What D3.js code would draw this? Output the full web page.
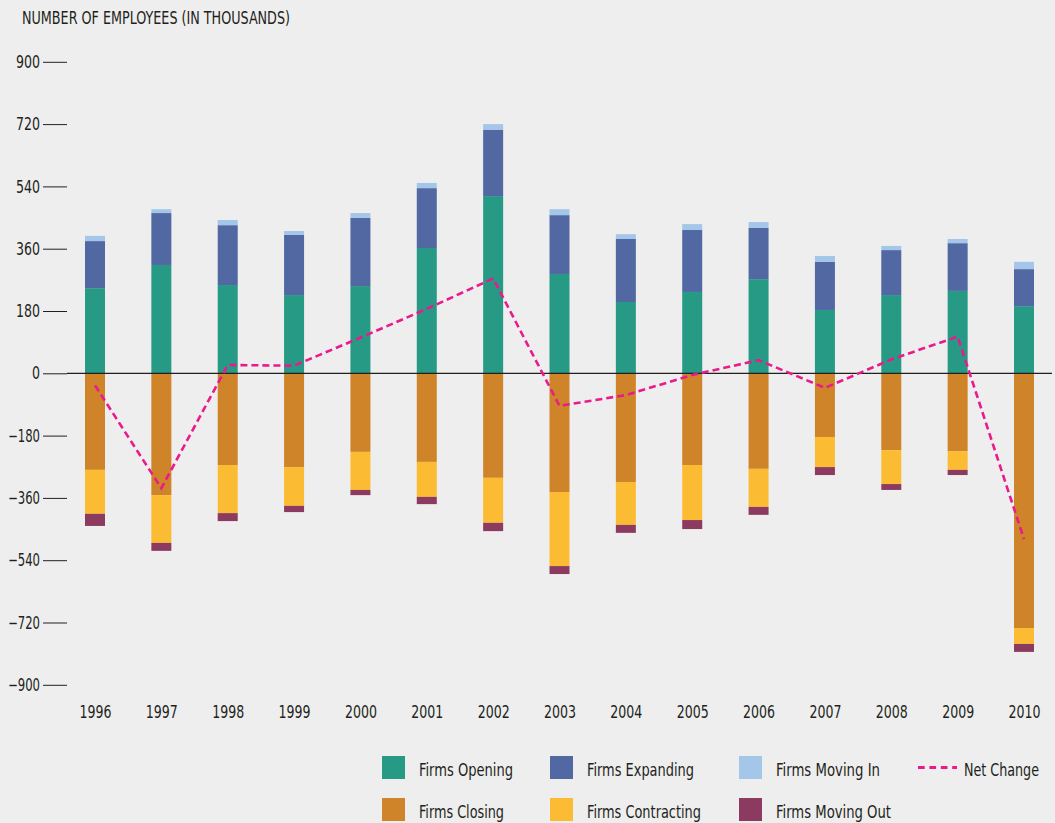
<!DOCTYPE html>
<html>
<head>
<meta charset="utf-8">
<script src="https://cdn.jsdelivr.net/npm/d3@7"></script>
<style>
  html, body { margin: 0; padding: 0; background: #eeeeee; }
  svg { display: block; }
  text { font-family: "DejaVu Sans Condensed", "Liberation Sans Narrow", sans-serif; fill: #231f20; }
</style>
</head>
<body>
<svg id="chart" width="1055" height="823"></svg>
<script>
const years = ["1996","1997","1998","1999","2000","2001","2002","2003","2004","2005","2006","2007","2008","2009","2010"];
const firmsOpening     = [246, 313, 255, 226, 252, 362, 512, 287, 206, 235, 272, 183, 226, 238, 194];
const firmsExpanding   = [136, 150, 173, 174, 197, 173, 191, 170, 182, 179, 148, 139, 130, 138, 107];
const firmsMovingIn    = [15, 11, 15, 11, 14, 15, 17, 17, 14, 17, 17, 17, 12, 12, 21];
const firmsClosing     = [-279, -352, -265, -271, -227, -256, -302, -343, -314, -265, -276, -184, -222, -225, -736];
const firmsContracting = [-127, -138, -139, -112, -110, -101, -130, -214, -124, -159, -110, -87, -98, -54, -46];
const firmsMovingOut   = [-35, -23, -23, -18, -15, -21, -24, -23, -23, -26, -23, -23, -17, -15, -23];
const netChange        = [-35, -332, 24, 22, 103, 186, 274, -94, -63, -5, 38, -42, 40, 106, -479];
const yTicks = [900, 720, 540, 360, 180, 0, -180, -360, -540, -720, -900];

const seriesKeys = ["Firms Opening","Firms Expanding","Firms Moving In","Firms Closing","Firms Contracting","Firms Moving Out"];
const seriesData = [firmsOpening, firmsExpanding, firmsMovingIn, firmsClosing, firmsContracting, firmsMovingOut];
const colors = ["#269a84", "#5268a3", "#a4c6e8", "#cf8429", "#fbbb33", "#8c3a5f"];
const netColor = "#ea1a8c";

const rows = years.map((y, i) => {
  const r = { year: y };
  seriesKeys.forEach((k, j) => r[k] = seriesData[j][i]);
  return r;
});

const svg = d3.select("#chart");
const x = d3.scalePoint().domain(years).range([95, 1024]);
const y = d3.scaleLinear().domain([-900, 900]).range([684.8, 61.8]);
const barW = 20;
const FS = 17.5;

// width of condensed glyphs (to mimic a narrow face)
function squeeze(sel, widthFn) {
  sel.attr("textLength", widthFn).attr("lengthAdjust", "spacingAndGlyphs");
}
const charW = s => s.split("").reduce((a, c) => a + (c === "-" ? 6 : 8), 0);

// Title
svg.append("text").attr("x", 22).attr("y", 24).attr("font-size", FS)
  .text("NUMBER OF EMPLOYEES (IN THOUSANDS)")
  .call(squeeze, 268);

// Y axis
const yAxis = d3.axisLeft(y).tickValues(yTicks).tickSize(24).tickPadding(3).tickFormat(d3.format("d"));
const gy = svg.append("g").attr("transform", "translate(67,0)").call(yAxis);
gy.select(".domain").remove();
gy.selectAll(".tick line").attr("stroke", "#231f20").attr("stroke-width", 1);
gy.selectAll(".tick text").attr("font-size", FS).attr("fill", "#231f20").attr("font-family", null)
  .call(squeeze, d => charW(d3.format("d")(d)));

// Stacks
const stack = d3.stack().keys(seriesKeys).offset(d3.stackOffsetDiverging);
const stacked = stack(rows);

svg.append("g").selectAll("g").data(stacked).join("g")
  .attr("fill", (d, i) => colors[i])
  .selectAll("rect").data(d => d).join("rect")
  .attr("x", d => x(d.data.year) - barW / 2)
  .attr("width", barW)
  .attr("y", d => y(Math.max(d[0], d[1])))
  .attr("height", d => Math.abs(y(d[0]) - y(d[1])));

// Zero line
svg.append("line").attr("x1", 67).attr("x2", 1052).attr("y1", y(0)).attr("y2", y(0))
  .attr("stroke", "#231f20").attr("stroke-width", 1.3);

// Net change line
const line = d3.line().x((d, i) => x(years[i])).y(d => y(d));
svg.append("path").datum(netChange).attr("d", line)
  .attr("fill", "none").attr("stroke", netColor).attr("stroke-width", 2.6)
  .attr("stroke-dasharray", "7,4");

// X labels
const xAxis = d3.axisBottom(x).tickSize(0).tickPadding(0);
const gx = svg.append("g").attr("transform", "translate(0,706)").call(xAxis);
gx.select(".domain").remove();
gx.selectAll(".tick text").attr("font-size", FS).attr("fill", "#231f20").attr("font-family", null)
  .call(squeeze, 32);

// Legend
const legendItems = [
  { label: "Firms Opening", color: colors[0], x: 382, y: 756, type: "rect", w: 94 },
  { label: "Firms Expanding", color: colors[1], x: 550, y: 756, type: "rect", w: 107 },
  { label: "Firms Moving In", color: colors[2], x: 739, y: 756, type: "rect", w: 104 },
  { label: "Net Change", color: netColor, x: 918, y: 756, type: "line", w: 75 },
  { label: "Firms Closing", color: colors[3], x: 382, y: 798, type: "rect", w: 85 },
  { label: "Firms Contracting", color: colors[4], x: 550, y: 798, type: "rect", w: 114 },
  { label: "Firms Moving Out", color: colors[5], x: 739, y: 798, type: "rect", w: 115 }
];
const lg = svg.append("g").selectAll("g").data(legendItems).join("g");
lg.filter(d => d.type === "rect").append("rect")
  .attr("x", d => d.x).attr("y", d => d.y).attr("width", 23).attr("height", 23)
  .attr("fill", d => d.color);
lg.filter(d => d.type === "line").append("line")
  .attr("x1", d => d.x).attr("x2", d => d.x + 39).attr("y1", d => d.y + 11.5).attr("y2", d => d.y + 11.5)
  .attr("stroke", d => d.color).attr("stroke-width", 2.8).attr("stroke-dasharray", "6.7,4.7");
// rect-swatch labels
lg.filter(d => d.type === "rect").append("text")
  .attr("x", d => d.x + 37)
  .attr("y", d => d.y + 20)
  .attr("font-size", FS)
  .text(d => d.label)
  .call(squeeze, d => d.w);
// line-swatch label: smaller face stretched vertically so it stays within the page edge
const netScale = 1.25;
lg.filter(d => d.type === "line").append("text")
  .attr("transform", d => `translate(${d.x + 46},${d.y + 20}) scale(1,${netScale})`)
  .attr("x", 0).attr("y", 0)
  .attr("font-size", FS / netScale)
  .text(d => d.label)
  .call(squeeze, d => d.w);
</script>
</body>
</html>
